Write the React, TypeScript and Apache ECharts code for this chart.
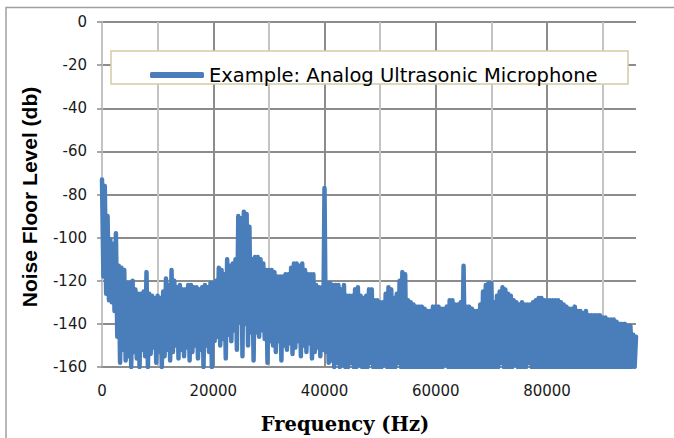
import React, { useEffect, useRef } from 'react';
import * as echarts from 'echarts';

// FFT bin spacing of the read-off samples (peak at each bin, floor half a bin later)
const binStepHz = 500;

// Upper envelope (dB) at 0, 500, 1000, ... 96000 Hz
const peakDb = [
  -73, -76, -90, -101, -103, -98, -113, -114, -115, -121,
  -121, -120, -124, -126, -126, -125, -116, -126, -127, -128,
  -127, -128, -125, -119, -122, -115, -120, -123, -122, -124,
  -124, -122, -122, -123, -123, -124, -123, -122, -123, -121,
  -121, -120, -114, -115, -117, -110, -113, -112, -110, -90,
  -91, -88, -89, -95, -110, -109, -109, -110, -112, -115,
  -115, -115, -116, -118, -118, -118, -117, -117, -114, -112,
  -112, -113, -112, -115, -117, -117, -117, -122, -123, -123,
  -77, -121, -121, -122, -122, -122, -124, -122, -127, -127,
  -127, -124, -123, -127, -128, -127, -124, -124, -129, -129,
  -130, -130, -126, -123, -124, -128, -126, -120, -116, -117,
  -129, -130, -131, -132, -132, -132, -133, -134, -134, -132,
  -132, -132, -133, -133, -132, -129, -129, -131, -131, -130,
  -113, -132, -132, -133, -134, -134, -131, -125, -122, -121,
  -121, -130, -127, -125, -123, -124, -126, -127, -129, -130,
  -131, -130, -131, -131, -131, -130, -129, -128, -128, -129,
  -129, -129, -129, -129, -129, -130, -131, -132, -133, -133,
  -132, -134, -134, -135, -134, -136, -136, -136, -136, -136,
  -137, -137, -138, -138, -138, -139, -140, -140, -140, -141,
  -141, -145, -146,
];

// Lower envelope (dB) at 250, 750, 1250, ... 95750 Hz
const floorDb = [
  -118, -126, -129, -130, -134, -146, -158, -152, -157, -155,
  -160, -153, -156, -160, -152, -155, -160, -154, -151, -158,
  -153, -160, -155, -152, -157, -153, -150, -156, -152, -155,
  -151, -157, -153, -150, -156, -152, -160, -150, -153, -160,
  -148, -146, -150, -147, -156, -145, -148, -143, -152, -139,
  -155, -140, -150, -144, -157, -144, -146, -143, -147, -158,
  -148, -150, -153, -148, -157, -150, -152, -149, -154, -151,
  -148, -155, -150, -153, -149, -156, -153, -151, -155, -152,
  -153, -158, -157, -160, -158, -160, -159, -160, -160, -158,
  -160, -160, -159, -160, -160, -160, -158, -160, -160, -160,
  -160, -159, -160, -160, -160, -160, -158, -160, -160, -160,
  -160, -160, -160, -160, -160, -160, -160, -160, -160, -160,
  -160, -160, -160, -159, -160, -160, -160, -160, -160, -160,
  -160, -160, -160, -160, -160, -160, -160, -160, -160, -160,
  -160, -160, -160, -158, -160, -160, -160, -160, -159, -160,
  -160, -160, -160, -158, -160, -160, -160, -160, -160, -160,
  -160, -160, -160, -160, -160, -160, -160, -160, -160, -160,
  -160, -160, -160, -160, -160, -160, -160, -160, -160, -160,
  -160, -160, -160, -160, -160, -160, -160, -160, -160, -160,
  -160, -160,
];

const seriesName = 'Example: Analog Ultrasonic Microphone';
const xTitle = 'Frequency (Hz)';
const yTitle = 'Noise Floor Level (db)';
const xMin = 0;
const xMax = 96000;
const yMin = -160;
const yMax = 0;

export default function App() {
  const ref = useRef<HTMLDivElement>(null);
  useEffect(() => {
    if (!ref.current) return;
    const chart = echarts.init(ref.current, null, { renderer: 'svg' });
    const data: [number, number][] = [];
    peakDb.forEach((v, i) => {
      data.push([i * binStepHz, v]);
      if (i < floorDb.length) data.push([i * binStepHz + binStepHz / 2, floorDb[i]]);
    });
    chart.setOption({
      animation: false,
      backgroundColor: '#ffffff',
      grid: { left: 102, top: 22, right: 38, bottom: 71, containLabel: false },
      xAxis: {
        type: 'value',
        min: xMin,
        max: xMax,
        interval: 10000,
        axisLine: { show: true, onZero: false, lineStyle: { color: '#8c8c8c', width: 1.5 } },
        axisTick: { show: false },
        axisLabel: {
          margin: 16,
          fontFamily: 'DejaVu Sans',
          fontSize: 15,
          color: '#1a1a1a',
          showMaxLabel: false,
          formatter: (v: number) => (v % 20000 === 0 ? String(v) : ''),
        },
        splitLine: {
          show: true,
          showMinLine: false,
          showMaxLine: false,
          lineStyle: { color: ['#c4c4c4', '#8c8c8c'], width: 2 },
        },
      },
      yAxis: {
        type: 'value',
        min: yMin,
        max: yMax,
        interval: 20,
        axisLine: { show: true, lineStyle: { color: '#c4c4c4', width: 2 } },
        axisTick: { show: true, length: 5, lineStyle: { color: '#8c8c8c', width: 1.5 } },
        axisLabel: { margin: 15, fontFamily: 'DejaVu Sans', fontSize: 15, color: '#1a1a1a' },
        splitLine: { show: true, lineStyle: { color: '#8c8c8c', width: 2 } },
      },
      legend: {
        show: true,
        data: [{ name: seriesName, icon: 'roundRect' }],
        left: 150,
        top: 65,
        padding: 0,
        itemWidth: 54,
        itemHeight: 6,
        z: 6,
        itemStyle: { color: '#4a7ebb' },
        textStyle: { fontFamily: 'DejaVu Sans', fontSize: 19.5, color: '#000' },
      },
      graphic: [
        {
          type: 'polyline',
          z: 1,
          silent: true,
          shape: { points: [[6, 440], [6, 7.5], [676, 7.5]] },
          style: { stroke: '#a0a0a0', lineWidth: 1.5, fill: 'none' },
        },
        {
          type: 'rect',
          z: 4,
          silent: true,
          shape: { x: 111, y: 51, width: 517, height: 33 },
          style: { fill: '#ffffff', stroke: '#d4cca4', lineWidth: 1.5 },
        },
        {
          type: 'text',
          z: 5,
          x: 29,
          y: 197,
          rotation: Math.PI / 2,
          style: {
            text: yTitle,
            fontFamily: 'Liberation Sans',
            fontWeight: 'bold',
            fontSize: 21,
            fill: '#000',
            align: 'center',
            verticalAlign: 'middle',
          },
        },
        {
          type: 'text',
          z: 5,
          x: 345,
          y: 424,
          style: {
            text: xTitle,
            fontFamily: 'DejaVu Serif',
            fontWeight: 'bold',
            fontSize: 19.5,
            fill: '#000',
            align: 'center',
            verticalAlign: 'middle',
          },
        },
      ],
      series: [
        {
          name: seriesName,
          type: 'line',
          data,
          symbol: 'none',
          showSymbol: false,
          z: 2,
          lineStyle: { color: '#4a7ebb', width: 4.5, cap: 'round', join: 'round' },
          itemStyle: { color: '#4a7ebb' },
        },
      ],
    });
    return () => chart.dispose();
  }, []);
  return (
    <div
      ref={ref}
      style={{ position: 'fixed', left: 0, top: 0, width: 674, height: 438 }}
    />
  );
}
